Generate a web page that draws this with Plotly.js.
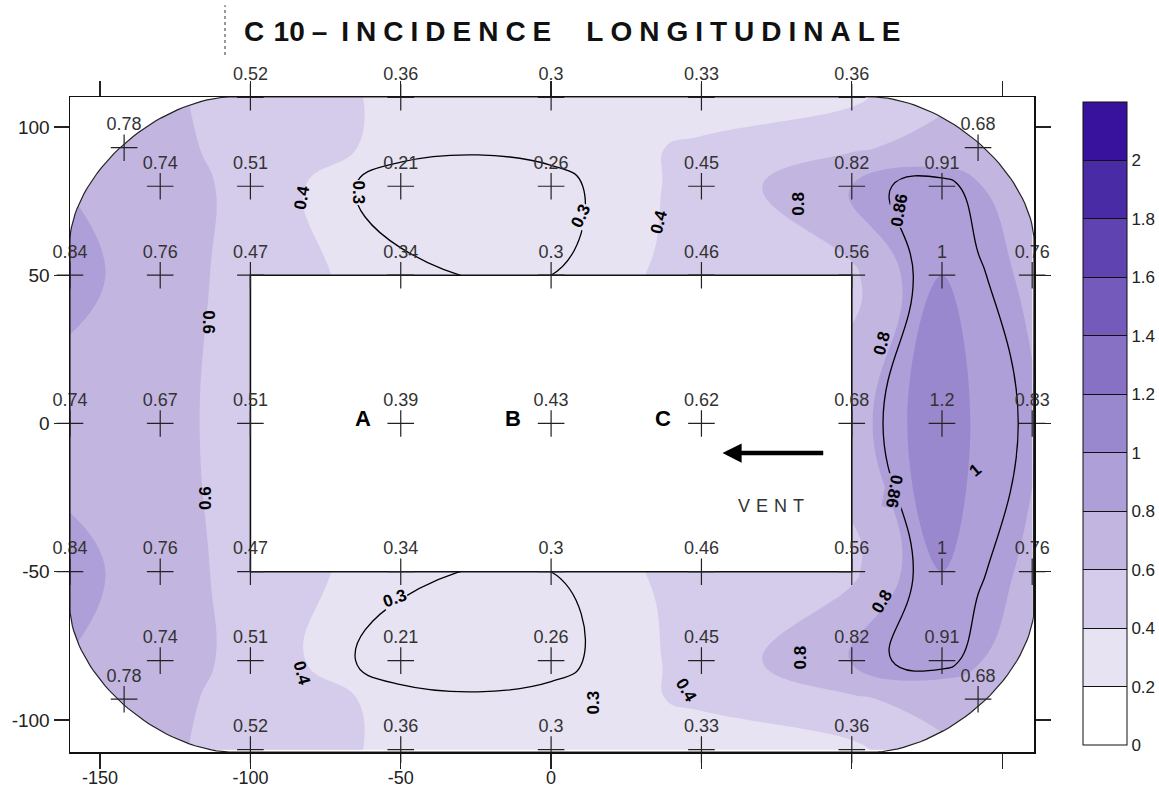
<!DOCTYPE html>
<html><head><meta charset="utf-8">
<script src="https://cdn.plot.ly/plotly-3.0.1.min.js"></script>
<style>html,body{margin:0;padding:0;background:#fff}#chart{width:1159px;height:789px}</style>
</head><body><div id="chart"></div>
<script>
const rowY = [110, 93, 80, 50, 0, -50, -80, -93, -110];
const row110X = [-100, -50, 0, 50, 100];
const row110Z = [0.52, 0.36, 0.3, 0.33, 0.36];
const row93X = [-142, 142];
const row93Z = [0.78, 0.68];
const row80X = [-130, -100, -50, 0, 50, 100, 130];
const row80Z = [0.74, 0.51, 0.21, 0.26, 0.45, 0.82, 0.91];
const row50X = [-160, -130, -100, -50, 0, 50, 100, 130, 160];
const row50Z = [0.84, 0.76, 0.47, 0.34, 0.3, 0.46, 0.56, 1, 0.76];
const row0X = [-160, -130, -100, -50, 0, 50, 100, 130, 160];
const row0Z = [0.74, 0.67, 0.51, 0.39, 0.43, 0.62, 0.68, 1.2, 0.83];
const rowM50X = [-160, -130, -100, -50, 0, 50, 100, 130, 160];
const rowM50Z = [0.84, 0.76, 0.47, 0.34, 0.3, 0.46, 0.56, 1, 0.76];
const rowM80X = [-130, -100, -50, 0, 50, 100, 130];
const rowM80Z = [0.74, 0.51, 0.21, 0.26, 0.45, 0.82, 0.91];
const rowM93X = [-142, 142];
const rowM93Z = [0.78, 0.68];
const rowM110X = [-100, -50, 0, 50, 100];
const rowM110Z = [0.52, 0.36, 0.3, 0.33, 0.36];

const innerNames = ['A', 'B', 'C'];
const innerX = [-50, 0, 50];
const innerY = [0, 0, 0];

const levelStart = 0.2, levelEnd = 2.0, levelStep = 0.2;
const cbMin = 0, cbMax = 2.2;
const cbTickVals = [0, 0.2, 0.4, 0.6, 0.8, 1, 1.2, 1.4, 1.6, 1.8, 2];
const cbTickText = ['0', '0.2', '0.4', '0.6', '0.8', '1', '1.2', '1.4', '1.6', '1.8', '2'];
const xTickVals = [-150, -100, -50, 0, 50, 100, 150];
const xTickText = ['-150', '-100', '-50', '0', '', '', ''];
const yTickVals = [-100, -50, 0, 50, 100];
const yTickText = ['-100', '-50', '0', '50', '100'];

const lineLevels = [0.3, 0.86];
const contourLabelText = ['0.4', '0.3', '0.3', '0.4', '0.8', '0.86', '0.8', '0.6', '0.6', '0.3', '0.4', '0.3', '0.4', '0.8', '0.86', '0.8', '1'];
const contourLabelX = [-83, -64, 10, 36, 82, 116, 110, -114, -115, -52, -83, 14, 45, 83, 114, 110, 141];
const contourLabelY = [76, 78, 70, 68, 74, 72, 27, 34, -25, -59, -84, -94, -90, -79, -23, -60, -16];
const contourLabelAngle = [-80, 90, -65, -75, -90, -80, -75, 90, -90, -20, 75, -90, 60, -90, 100, -60, -40];

const bandColors = ['#FFFFFF', '#E7E3F3', '#D4CCEA', '#C2B6E1', '#AE9FD8', '#9A88CE', '#8771C5', '#735ABB', '#5F43B1', '#4A2BA6', '#38129C'];

// ---- geometry of the blanked figure ----
const X0 = -160, X1 = 160.6, Y0 = -110.8, Y1 = 110.1;
const RX = 53, RY = 48, EXPO = 1.7;
const INNER = {x0: -100, x1: 100, y0: -50, y1: 50};

// ---- assemble flat columns ----
const rowsX = [row110X, row93X, row80X, row50X, row0X, rowM50X, rowM80X, rowM93X, rowM110X];
const rowsZ = [row110Z, row93Z, row80Z, row50Z, row0Z, rowM50Z, rowM80Z, rowM93Z, rowM110Z];
const allX = [], allY = [], allZ = [];
rowsX.forEach((xs, r) => xs.forEach((x, i) => { allX.push(x); allY.push(rowY[r]); allZ.push(rowsZ[r][i]); }));

const fillScale = bandColors.map((c, i) => [i / (bandColors.length - 1), c]);
const stepScale = [];
bandColors.forEach((c, i) => { stepScale.push([i / bandColors.length, c]); stepScale.push([(i + 1) / bandColors.length, c]); });

function arc(cx, cy, sx, sy, n) {
  const p = [];
  for (let i = 0; i <= n; i++) {
    const t = i / n * Math.PI / 2;
    p.push([cx + sx * RX * Math.pow(Math.cos(t), 2 / EXPO), cy + sy * RY * Math.pow(Math.sin(t), 2 / EXPO)]);
  }
  return p;
}
const corners = [
  {fx: X0, fy: Y1, sx: -1, sy: 1},
  {fx: X1, fy: Y1, sx: 1, sy: 1},
  {fx: X1, fy: Y0, sx: 1, sy: -1},
  {fx: X0, fy: Y0, sx: -1, sy: -1}
];
const maskX = [], maskY = [];
const arcs = corners.map(c => arc(c.fx - c.sx * RX, c.fy - c.sy * RY, c.sx, c.sy, 40));
corners.forEach((c, k) => {
  maskX.push(c.fx); maskY.push(c.fy);
  arcs[k].forEach(p => { maskX.push(p[0]); maskY.push(p[1]); });
  maskX.push(c.fx); maskY.push(c.fy);
  maskX.push(null); maskY.push(null);
});
const outX = [], outY = [];
const ordered = [arcs[0], arcs[1].slice().reverse(), arcs[2], arcs[3].slice().reverse()];
ordered.forEach(a => a.forEach(p => { outX.push(p[0]); outY.push(p[1]); }));
outX.push(outX[0]); outY.push(outY[0]);

const fontReg = 'Liberation Sans, Arial, sans-serif';

const traces = [
  {
    type: 'contour', x: allX, y: allY, z: allZ,
    autocontour: false,
    contours: {start: levelStart, end: levelEnd, size: levelStep, coloring: 'fill', showlines: false},
    line: {width: 0, smoothing: 1.3},
    colorscale: fillScale, showscale: false, hoverinfo: 'skip', connectgaps: true
  },
  {
    type: 'contour', x: allX, y: allY, z: allZ,
    autocontour: false,
    contours: {start: lineLevels[0], end: lineLevels[0], size: 1, coloring: 'none', showlines: true},
    line: {width: 1.3, color: '#000', smoothing: 1.3},
    showscale: false, hoverinfo: 'skip', connectgaps: true
  },
  {
    type: 'contour', x: allX, y: allY, z: allZ,
    autocontour: false,
    contours: {start: lineLevels[1], end: lineLevels[1], size: 1, coloring: 'none', showlines: true},
    line: {width: 1.3, color: '#000', smoothing: 1.3},
    showscale: false, hoverinfo: 'skip', connectgaps: true
  },
  // colour-scale carrier: same data on hidden overlay axes (out of view), only its colour bar shows
  {
    type: 'heatmap', x: allX, y: allY, z: allZ, xaxis: 'x2', yaxis: 'y2',
    zauto: false, zmin: cbMin, zmax: cbMax,
    colorscale: stepScale, showscale: true, hoverinfo: 'skip',
    colorbar: {
      xref: 'paper', yref: 'paper', x: (1083 - 70) / 964, xanchor: 'left',
      y: (752 - 102) / 655, yanchor: 'top', len: 643, lenmode: 'pixels',
      thickness: 44, thicknessmode: 'pixels', outlinewidth: 1, outlinecolor: '#111',
      xpad: 0, ypad: 0, ticks: 'inside', ticklen: 44, tickwidth: 1, tickcolor: '#111',
      ticklabelposition: 'outside',
      tickvals: cbTickVals, ticktext: cbTickText,
      tickfont: {family: fontReg, size: 17, color: '#222'}
    }
  },
  {
    type: 'scatter', mode: 'lines', x: maskX, y: maskY, fill: 'toself', fillcolor: '#FFFFFF',
    line: {width: 0, color: 'rgba(0,0,0,0)'}, hoverinfo: 'skip', showlegend: false
  },
  {
    type: 'scatter', mode: 'lines', x: outX, y: outY,
    line: {width: 1.2, color: '#222'}, hoverinfo: 'skip', showlegend: false
  },
  {
    type: 'scatter', mode: 'lines', fill: 'toself', fillcolor: '#FFFFFF',
    x: [INNER.x0, INNER.x1, INNER.x1, INNER.x0, INNER.x0],
    y: [INNER.y0, INNER.y0, INNER.y1, INNER.y1, INNER.y0],
    line: {width: 1.6, color: '#111'}, hoverinfo: 'skip', showlegend: false
  },
  {
    type: 'scatter', mode: 'markers+text', x: allX, y: allY,
    text: allZ.map(v => String(v)), textposition: 'top center',
    textfont: {family: fontReg, size: 18, color: '#333'},
    marker: {symbol: 'cross-thin', size: 19, color: '#222', line: {width: 1.2, color: '#222'}},
    cliponaxis: false, hoverinfo: 'skip', showlegend: false
  }
];

const annotations = [];
contourLabelText.forEach((t, i) => {
  const lvl = parseFloat(t);
  const bg = lvl === 0.3 ? bandColors[1] : (lvl === 0.86 ? bandColors[4] : 'rgba(0,0,0,0)');
  annotations.push({
    x: contourLabelX[i], y: contourLabelY[i], xref: 'x', yref: 'y', text: t, showarrow: false,
    textangle: contourLabelAngle[i], bgcolor: bg, borderpad: 0,
    font: {family: fontReg, size: 17, color: '#000', weight: 'bold'}
  });
});
innerNames.forEach((n, i) => {
  annotations.push({
    x: innerX[i], y: innerY[i], xref: 'x', yref: 'y', text: n, showarrow: false,
    xshift: -38, yshift: 5, font: {family: fontReg, size: 22, color: '#000', weight: 'bold'}
  });
});
annotations.push({
  x: 57, y: -10, ax: 91, ay: -10, xref: 'x', yref: 'y', axref: 'x', ayref: 'y',
  text: '', showarrow: true, arrowhead: 2, arrowsize: 0.85, arrowwidth: 4.5, arrowcolor: '#000'
});
annotations.push({
  x: 73, y: -28, xref: 'x', yref: 'y', text: 'V\u2004E\u2004N\u2004T', showarrow: false,
  font: {family: fontReg, size: 18, color: '#333'}
});

const sp = '\u2005';
const titleText = 'C\u200410' + sp + '–\u2002' + 'INCIDENCE'.split('').join(sp) + '\u2003' + sp + 'LONGITUDINALE'.split('').join(sp);

const layout = {
  width: 1159, height: 789,
  paper_bgcolor: '#FFFFFF', plot_bgcolor: '#FFFFFF',
  margin: {l: 70, r: 125, t: 97, b: 37, autoexpand: false},
  showlegend: false,
  title: {
    text: titleText, xref: 'container', yref: 'container', x: 244 / 1159, xanchor: 'left',
    y: 1 - 31 / 789, yanchor: 'middle',
    font: {family: fontReg, size: 28, color: '#111', weight: 'bold'}
  },
  xaxis: {
    range: [X0, X1], tickvals: xTickVals, ticktext: xTickText, ticks: 'outside', ticklen: 15,
    tickwidth: 1.2, tickcolor: '#222', showline: true, linecolor: '#111', linewidth: 1.5,
    mirror: 'ticks', showgrid: false, zeroline: false, ticklabelstandoff: -6,
    tickfont: {family: fontReg, size: 18, color: '#222'}
  },
  yaxis: {
    range: [Y0, Y1], tickvals: yTickVals, ticktext: yTickText, ticks: 'outside', ticklen: 15,
    tickwidth: 1.2, tickcolor: '#222', showline: true, linecolor: '#111', linewidth: 1.5,
    mirror: 'ticks', showgrid: false, zeroline: false,
    tickfont: {family: fontReg, size: 19, color: '#222'}
  },
  xaxis2: {overlaying: 'x', anchor: 'y2', visible: false, range: [1000, 1001]},
  yaxis2: {overlaying: 'y', anchor: 'x2', visible: false, range: [1000, 1001]},
  annotations: annotations,
  shapes: [{
    type: 'line', xref: 'paper', yref: 'paper', x0: 0.1608, x1: 0.1608, y0: 1.064, y1: 1.14,
    line: {color: '#777', width: 1.5, dash: 'dot'}
  }]
};

Plotly.newPlot('chart', traces, layout, {displayModeBar: false, staticPlot: true});
</script>
</body></html>
